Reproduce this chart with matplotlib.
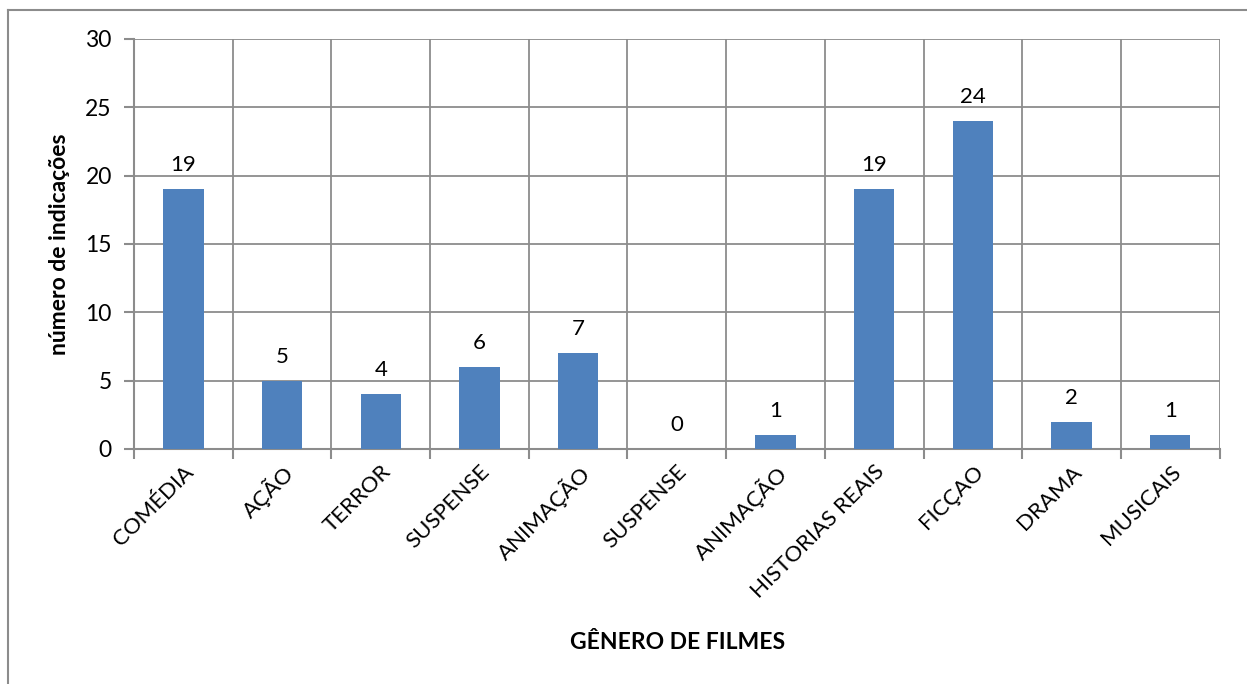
import matplotlib.pyplot as plt
from matplotlib.lines import Line2D

plt.rcParams['font.family'] = ['Lato', 'DejaVu Sans']

generos = ['COMÉDIA', 'AÇÃO', 'TERROR', 'SUSPENSE', 'ANIMAÇÃO', 'SUSPENSE',
           'ANIMAÇÃO', 'HISTORIAS REAIS', 'FICÇAO', 'DRAMA', 'MUSICAIS']
indicacoes = [19, 5, 4, 6, 7, 0, 1, 19, 24, 2, 1]
yticks = [0, 5, 10, 15, 20, 25, 30]

grid_color = '#8c8c8c'
bar_color = '#4f81bd'

fig = plt.figure(figsize=(12.47, 6.84), dpi=100)
ax = fig.add_axes([0.1075, 0.3436, 0.8705, 0.5994])

x = list(range(len(generos)))
ax.bar(x, indicacoes, width=0.41, color=bar_color, zorder=3)
for xi, v in zip(x, indicacoes):
    ax.annotate(str(v), (xi, v), xytext=(0, 10), textcoords='offset points',
                ha='center', va='bottom', fontsize=16, color='black')

ax.set_xlim(-0.5, len(generos) - 0.5)
ax.set_ylim(0, 30)
ax.set_yticks(yticks)
ax.set_xticks(x)
ax.set_xticklabels(generos, rotation=45, ha='right', rotation_mode='anchor', fontsize=16)
ax.set_xticks([i - 0.5 for i in range(len(generos) + 1)], minor=True)
ax.tick_params(axis='x', which='major', length=0, pad=9)
ax.tick_params(axis='x', which='minor', length=7, width=1.5, color=grid_color)
ax.tick_params(axis='y', length=7, width=1.5, color=grid_color, labelsize=16.5, pad=9)

ax.grid(axis='y', which='major', color=grid_color, linewidth=1.3, zorder=0)
ax.grid(axis='x', which='minor', color=grid_color, linewidth=1.3, zorder=0)
for s in ['top', 'right']:
    ax.spines[s].set_visible(False)
for s in ['left', 'bottom']:
    ax.spines[s].set_color(grid_color)
    ax.spines[s].set_linewidth(1.5)

ax.set_ylabel('número de indicações', fontsize=16.5, fontweight='bold', labelpad=11)
fig.text(0.543, 0.06, 'GÊNERO DE FILMES', ha='center', va='center',
         fontsize=16.5, fontweight='bold')

# chart frame
fig.add_artist(Line2D([0.0064, 1.0], [0.985, 0.985], color='#8c8c8c', lw=1.5))
fig.add_artist(Line2D([0.0064, 0.0064], [0.0, 0.985], color='#8c8c8c', lw=1.5))

fig.savefig('out.png', dpi=100)
